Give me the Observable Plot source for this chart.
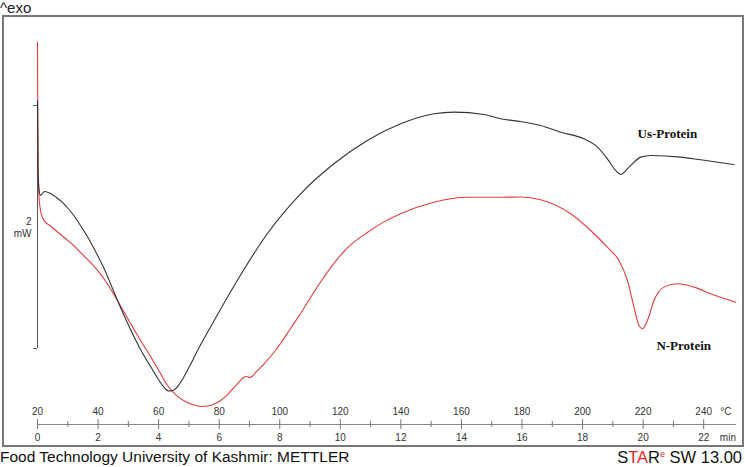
<!DOCTYPE html>
<html>
<head>
<meta charset="utf-8">
<script src="https://cdn.jsdelivr.net/npm/d3@7"></script>
<script src="https://cdn.jsdelivr.net/npm/@observablehq/plot@0.6"></script>
<style>
  html, body { margin: 0; padding: 0; background: #fff; }
  body { width: 745px; height: 467px; position: relative; overflow: hidden; font-family: "Liberation Sans", Arial, sans-serif; }
  #exo { position: absolute; left: 0; top: 0; font-size: 15px; line-height: 15px; color: #222; }
  #frame { position: absolute; left: 2px; top: 15px; width: 738px; height: 428px; border: 2px solid #777; }
  #frame svg { display: block; }
  #capL { position: absolute; left: 0; top: 448px; font-size: 15.5px; line-height: 18px; color: #111; white-space: nowrap; }
  #capR { position: absolute; right: 3px; top: 448px; font-size: 16.5px; line-height: 18px; color: #111; white-space: nowrap; }
  #capR .r { color: #e0282c; }
  #capR sup { font-size: 9px; line-height: 0; color: #e0282c; vertical-align: 6px; }
</style>
</head>
<body>
<div id="exo">^exo</div>
<div id="frame"></div>
<div id="capL">Food Technology University of Kashmir: METTLER</div>
<div id="capR">S<span class="r">TA</span>R<sup>e</sup> SW 13.00</div>
<script>
// Us-Protein (black): temperature (°C) and heat flow (mW)
const tempUs = [20.0, 20.17, 20.66, 20.99, 22.31, 24.29, 26.28, 28.26, 30.24, 32.22, 34.20, 36.85, 39.49, 42.13, 44.77, 47.42, 50.72, 54.02, 57.33, 59.97, 62.28, 63.27, 64.59, 66.24, 68.22, 70.54, 72.85, 76.49, 85.97, 95.88, 106.88, 117.88, 128.91, 139.91, 150.91, 157.52, 167.43, 172.94, 179.55, 186.15, 192.76, 200.46, 204.32, 208.19, 210.93, 212.58, 215.32, 219.19, 222.49, 232.40, 239.01, 250.0];
const mwUs   = [2.041, 1.465, 1.284, 1.259, 1.292, 1.276, 1.243, 1.202, 1.148, 1.086, 1.012, 0.905, 0.782, 0.650, 0.494, 0.337, 0.156, -0.008, -0.148, -0.255, -0.333, -0.350, -0.346, -0.313, -0.239, -0.132, -0.016, 0.148, 0.560, 0.944, 1.273, 1.520, 1.712, 1.849, 1.932, 1.945, 1.926, 1.891, 1.868, 1.835, 1.780, 1.726, 1.671, 1.561, 1.465, 1.432, 1.492, 1.575, 1.588, 1.575, 1.553, 1.514];

// N-Protein (red)
const tempN = [20.0, 20.10, 20.26, 20.43, 20.99, 21.65, 22.64, 24.29, 26.61, 29.25, 31.89, 34.53, 37.51, 40.15, 42.79, 45.43, 48.08, 50.72, 54.02, 57.33, 60.63, 62.94, 65.58, 68.22, 71.20, 73.84, 76.15, 78.47, 80.45, 82.76, 85.07, 87.06, 88.05, 89.04, 90.03, 91.02, 92.34, 94.32, 96.96, 100.27, 103.57, 106.88, 110.18, 114.47, 119.0, 123.39, 128.91, 134.29, 139.91, 150.91, 161.94, 172.94, 179.55, 186.15, 196.06, 202.67, 208.19, 212.02, 214.80, 216.98, 218.63, 219.75, 221.40, 223.58, 226.88, 231.31, 236.79, 242.28, 250.54];
const mwN   = [2.519, 1.877, 1.383, 1.276, 1.136, 1.078, 1.040, 1.008, 0.959, 0.905, 0.848, 0.782, 0.708, 0.634, 0.543, 0.436, 0.321, 0.206, 0.066, -0.066, -0.206, -0.305, -0.379, -0.428, -0.461, -0.477, -0.473, -0.457, -0.428, -0.379, -0.317, -0.263, -0.239, -0.230, -0.239, -0.226, -0.189, -0.140, -0.066, 0.041, 0.165, 0.288, 0.420, 0.584, 0.736, 0.852, 0.955, 1.040, 1.109, 1.204, 1.245, 1.245, 1.247, 1.224, 1.109, 0.971, 0.834, 0.724, 0.560, 0.340, 0.189, 0.162, 0.230, 0.395, 0.505, 0.533, 0.505, 0.450, 0.381];

// axis labels
const tempTicks = [20, 40, 60, 80, 100, 120, 140, 160, 180, 200, 220, 240];
const minuteLabels = ["0", "2", "4", "6", "8", "10", "12", "14", "16", "18", "20", "22"];
const minorTicks = [30, 50, 70, 90, 110, 130, 150, 170, 190, 210, 230];

// scale bar (2 mW)
const scaleBar = [0, 2];
const scaleBarTemp = 20;
const scaleBarTickStart = 18.7;

// series labels
const seriesNames = ["Us-Protein", "N-Protein"];
const labelTemps = [228.0, 233.4];
const labelMw = [1.77, 0.025];

const dataUs = tempUs.map((t, i) => ({t, mw: mwUs[i]}));
const dataN = tempN.map((t, i) => ({t, mw: mwN[i]}));
const labels = seriesNames.map((s, i) => ({s, t: labelTemps[i], mw: labelMw[i]}));

const chart = Plot.plot({
  width: 738,
  height: 428,
  marginLeft: 33,
  marginRight: 7,
  marginTop: 0,
  marginBottom: 21,
  style: {fontFamily: "'Liberation Sans', Arial, sans-serif", fontSize: "10px", color: "#333", background: "#fff"},
  x: {domain: [20, 250.5], axis: null},
  y: {domain: [-0.6255, 2.724], axis: null},
  marks: [
    // bottom axis line
    Plot.frame({anchor: "bottom", stroke: "#888", strokeWidth: 1}),
    // major ticks crossing the line
    Plot.ruleX(tempTicks, {x: d => d, y1: -0.6255, y2: -0.6255, insetTop: 5, insetBottom: 5, stroke: "#777"}),
    // minor ticks
    Plot.ruleX(minorTicks, {x: d => d, y1: -0.6255, y2: -0.6255, insetTop: 3, insetBottom: 3, stroke: "#777"}),
    // temperature labels above axis
    Plot.text(tempTicks, {x: d => d, text: d => String(d), frameAnchor: "bottom", dy: -13, lineAnchor: "middle", fill: "#333"}),
    // minute labels below axis
    Plot.text(tempTicks, {x: d => d, text: (d, i) => minuteLabels[i], frameAnchor: "bottom", dy: 13, lineAnchor: "middle", fill: "#333"}),
    Plot.text(["°C"], {x: 247.3, text: d => d, frameAnchor: "bottom", dy: -13, lineAnchor: "middle", fill: "#333"}),
    Plot.text(["min"], {x: 248.0, text: d => d, frameAnchor: "bottom", dy: 13, lineAnchor: "middle", fill: "#333"}),
    // scale bar
    Plot.ruleX([scaleBarTemp], {y1: scaleBar[0], y2: scaleBar[1], stroke: "#555", strokeWidth: 1}),
    Plot.ruleY(scaleBar, {y: d => d, x1: scaleBarTickStart, x2: scaleBarTemp, stroke: "#555", strokeWidth: 1}),
    Plot.text(["2\nmW"], {x: scaleBarTemp, y: 1.0, text: d => d, dx: -6, textAnchor: "end", lineAnchor: "middle", lineHeight: 1.25, fill: "#333"}),
    // curves
    Plot.line(dataN, {x: "t", y: "mw", stroke: "#e33a3d", strokeWidth: 1.1, curve: "monotone-x"}),
    Plot.line(dataUs, {x: "t", y: "mw", stroke: "#333", strokeWidth: 1.1, curve: "monotone-x"}),
    // series labels
    Plot.text(labels, {x: "t", y: "mw", text: "s", fontFamily: "'Liberation Serif', 'Times New Roman', serif", fontWeight: "bold", fontSize: 13, fill: "#111"})
  ]
});
document.getElementById("frame").appendChild(chart);
</script>
</body>
</html>
